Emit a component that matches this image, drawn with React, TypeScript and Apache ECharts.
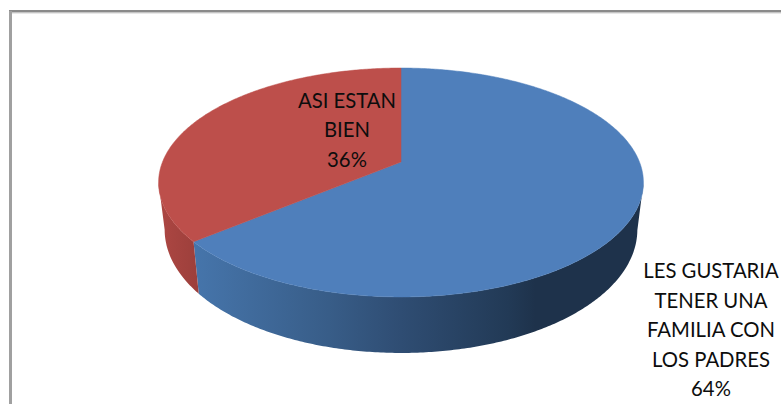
import React, { useEffect, useRef } from "react";
import * as echarts from "echarts";

const categories = ["LES GUSTARIA\nTENER UNA\nFAMILIA CON\nLOS PADRES", "ASI ESTAN\nBIEN"];
const values = [64, 36];
const topColors = ["#4f7fbb", "#bd4f4b"];

// Perspective model of the tilted disc
const CX = 401;
const APEX_Y = 162;
const SX = 238.5;
const AY = 81.8;
const PERSP = -0.179;
const labelAnchors = [
  { x: 711, y: 329 },
  { x: 347, y: 129 },
];
const LINE_H = 29.5;

const total = values.reduce((a, b) => a + b, 0);
const rad = (p: number) => (p / total) * Math.PI * 2;

function topPt(t: number) {
  const u = Math.sin(t);
  const v = -Math.cos(t);
  const w = 1 + PERSP * v;
  return { x: CX + (SX * u) / w, y: (AY * v + APEX_Y) / w, v };
}
function botPt(t: number) {
  const p = topPt(t);
  return { x: CX + (p.x - CX) * 0.975, y: p.y + 45 + 11 * p.v };
}
function arcAngles(a: number, b: number) {
  const out: number[] = [];
  const n = Math.max(2, Math.ceil((b - a) / 0.01));
  for (let i = 0; i <= n; i++) out.push(a + ((b - a) * i) / n);
  return out;
}
function sliceBounds(i: number) {
  let s = 0;
  for (let k = 0; k < i; k++) s += values[k];
  return [rad(s), rad(s + values[i])];
}

const sideFills: any[] = [
  {
    type: "linear", x: 0, y: 0, x2: 1, y2: 0,
    colorStops: [
      { offset: 0, color: "#4675ab" },
      { offset: 0.3, color: "#385d88" },
      { offset: 0.46, color: "#2f4d73" },
      { offset: 0.7, color: "#223a56" },
      { offset: 0.76, color: "#1e324b" },
      { offset: 1, color: "#1e324b" },
    ],
  },
  {
    type: "linear", x: 0, y: 0, x2: 1, y2: 0,
    colorStops: [
      { offset: 0, color: "#ad4743" },
      { offset: 1, color: "#9c3f3b" },
    ],
  },
];

export default function App() {
  const ref = useRef<HTMLDivElement>(null);
  useEffect(() => {
    document.body.style.margin = "0";
    const chart = echarts.init(ref.current!, undefined, { renderer: "svg" });
    const data = values.map((v, i) => ({ value: v, name: categories[i] }));
    chart.setOption({
      animation: false,
      backgroundColor: "#ffffff",
      graphic: [
        { type: "rect", shape: { x: 9, y: 10, width: 772, height: 1 }, style: { fill: "#8a8a8a" }, silent: true },
        { type: "rect", shape: { x: 9, y: 11, width: 772, height: 1 }, style: { fill: "#8a8a8a" }, silent: true },
        { type: "rect", shape: { x: 9, y: 12, width: 772, height: 1 }, style: { fill: "#c4c4c4" }, silent: true },
        { type: "rect", shape: { x: 9, y: 13, width: 772, height: 1 }, style: { fill: "#e8e8e8" }, silent: true },
        { type: "rect", shape: { x: 9, y: 11, width: 3, height: 393 }, style: { fill: "#a0a0a0" }, silent: true },
      ],
      series: [
        {
          type: "custom",
          coordinateSystem: "none",
          z: 2,
          data,
          renderItem: (p: any) => {
            const [a, b] = sliceBounds(p.dataIndex);
            const ts = arcAngles(a, b).filter((t) => topPt(t).v >= -PERSP);
            const pts = [
              ...ts.map((t) => { const q = topPt(t); return [q.x, q.y]; }),
              ...ts.slice().reverse().map((t) => { const q = botPt(t); return [q.x, q.y]; }),
            ];
            return { type: "polygon", shape: { points: pts }, style: { fill: sideFills[p.dataIndex] } };
          },
        },
        {
          type: "custom",
          coordinateSystem: "none",
          z: 3,
          data,
          renderItem: (p: any) => {
            const [a, b] = sliceBounds(p.dataIndex);
            const pts = [[CX, APEX_Y], ...arcAngles(a, b).map((t) => { const q = topPt(t); return [q.x, q.y]; })];
            return { type: "polygon", shape: { points: pts }, style: { fill: topColors[p.dataIndex], stroke: topColors[p.dataIndex], lineWidth: 0.5 } };
          },
        },
        {
          type: "custom",
          coordinateSystem: "none",
          z: 4,
          data,
          renderItem: (p: any, api: any) => {
            const lines = String(categories[p.dataIndex]).split("\n").concat(`${api.value(0)}%`);
            const anchor = labelAnchors[p.dataIndex];
            return {
              type: "group",
              children: lines.map((line, k) => ({
                type: "text",
                x: anchor.x,
                y: anchor.y + (k - (lines.length - 1) / 2) * LINE_H,
                style: {
                  text: line,
                  fill: "#0d0d0d",
                  font: '20.3px Lato, "Open Sans", sans-serif',
                  align: "center",
                  verticalAlign: "middle",
                },
              })),
            };
          },
        },
      ],
    });
    return () => chart.dispose();
  }, []);
  return <div ref={ref} style={{ width: 781, height: 404 }} />;
}
